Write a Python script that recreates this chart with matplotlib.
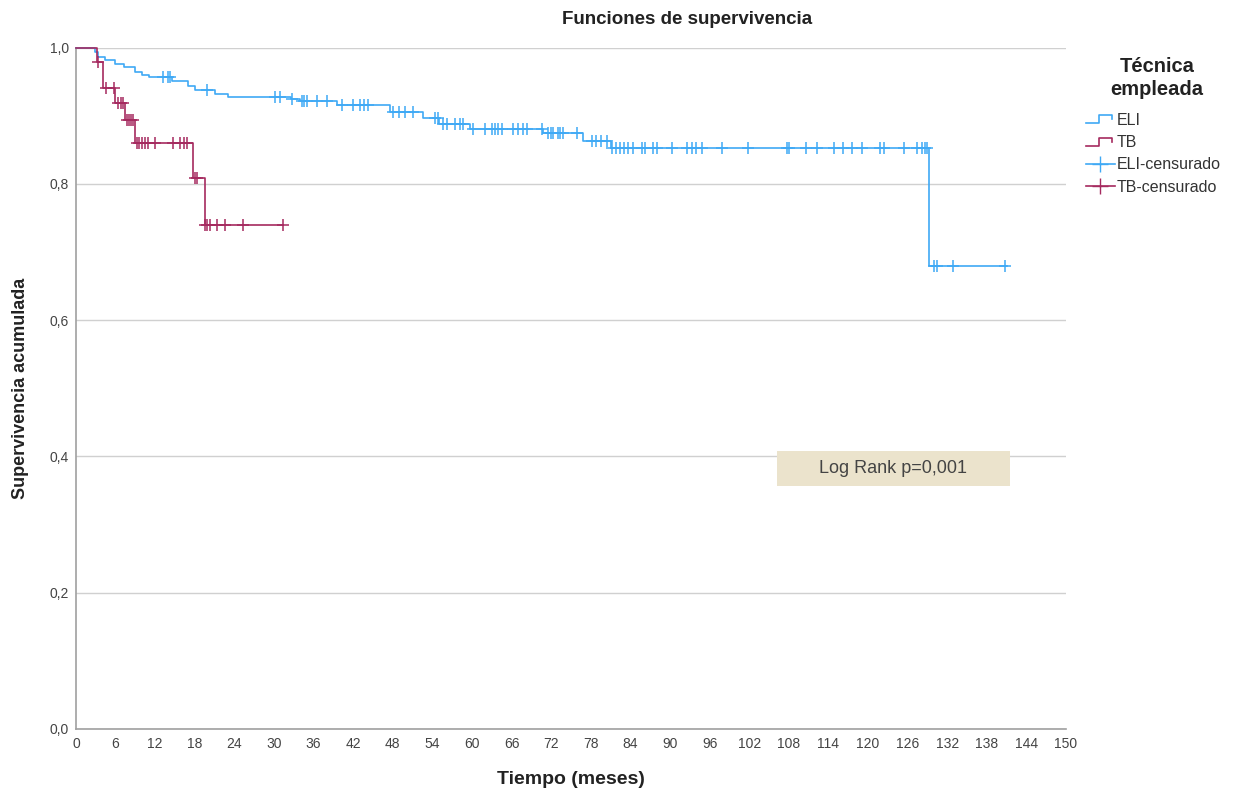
import numpy as np
import matplotlib
matplotlib.use("Agg")
import matplotlib.pyplot as plt
from matplotlib.lines import Line2D
from matplotlib.patches import Rectangle
from matplotlib.legend_handler import HandlerBase

plt.rcParams['font.family'] = ['Liberation Sans', 'DejaVu Sans']

# datos (meses, supervivencia acumulada)
eli_t = [0, 2.9, 3.4, 4.4, 5.9, 7.2, 8.9, 10.0, 11.0, 14.5, 17.0, 18.0, 21.0, 23.0,
         32.5, 34.0, 39.5, 47.6, 52.6, 55.0, 59.7, 70.8, 76.8, 81.0, 129.2]
eli_s = [1.0, 0.993, 0.986, 0.981, 0.976, 0.971, 0.964, 0.960, 0.956, 0.951, 0.944, 0.937,
         0.932, 0.927, 0.924, 0.921, 0.915, 0.905, 0.896, 0.888, 0.881, 0.874, 0.863, 0.852, 0.68]
eli_fin = 141.0
eli_cens = [13.2, 14.0, 14.3, 19.8, 30.2, 30.9, 32.7, 34.2, 34.6, 35.0, 36.5, 38.0, 40.3,
            42.0, 43.0, 43.6, 44.2, 48.0, 49.0, 49.8, 51.0, 54.4, 54.8, 55.6, 56.2, 57.4,
            58.2, 58.6, 60.2, 62.0, 63.0, 63.5, 64.0, 64.5, 66.2, 67.0, 67.7, 68.3, 70.6,
            71.5, 72.0, 72.3, 73.0, 73.4, 73.8, 75.9, 78.2, 78.8, 79.5, 80.5, 81.2, 81.8,
            82.4, 83.0, 83.6, 84.4, 85.8, 86.2, 87.4, 88.0, 90.3, 92.6, 93.3, 94.0, 94.8,
            97.9, 101.8, 107.7, 108.1, 110.6, 112.3, 114.8, 116.2, 117.5, 119.1, 121.8,
            122.4, 125.5, 127.4, 128.2, 128.6, 129.0, 130.0, 130.5, 132.9, 140.8]

tb_t = [0, 3.2, 4.1, 5.9, 7.4, 8.9, 17.7, 19.5]
tb_s = [1.0, 0.978, 0.94, 0.918, 0.893, 0.86, 0.808, 0.74]
tb_fin = 31.4
tb_cens = [3.4, 4.5, 5.8, 6.4, 6.8, 7.1, 7.7, 8.0, 8.3, 8.6, 9.2, 9.6, 10.0, 10.4, 10.9,
           12.0, 14.7, 15.8, 16.3, 16.8, 18.0, 18.4, 19.6, 19.9, 20.3, 21.4, 22.6, 25.3, 31.4]

col_eli = '#3fa9f5'
col_tb = '#a52a5f'


def valor_en(tiempos, surv, t):
    i = np.searchsorted(tiempos, t, side='right') - 1
    return np.array(surv)[i]


class HandlerEscalon(HandlerBase):
    def create_artists(self, legend, orig_handle, xdescent, ydescent, width, height, fontsize, trans):
        x0 = -xdescent
        y0 = -ydescent
        xs = [x0, x0 + width * 0.45, x0 + width * 0.45, x0 + width * 0.9, x0 + width * 0.9]
        ys = [y0 + height * 0.15, y0 + height * 0.15, y0 + height * 0.85, y0 + height * 0.85, y0 + height * 0.5]
        l = Line2D(xs, ys, color=orig_handle.get_color(), lw=1.2, transform=trans)
        return [l]


fig = plt.figure(figsize=(12.4, 7.96), dpi=100)
ax = fig.add_axes([76 / 1240, 1 - 729 / 796, (1066 - 76) / 1240, (729 - 47.5) / 796])

ax.step(eli_t + [eli_fin], eli_s + [eli_s[-1]], where='post', color=col_eli, lw=1.2, clip_on=False, zorder=3)
ax.step(tb_t + [tb_fin], tb_s + [tb_s[-1]], where='post', color=col_tb, lw=1.2, clip_on=False, zorder=4)
ax.plot(eli_cens, valor_en(eli_t, eli_s, eli_cens), ls='none', marker='+', ms=9, mew=1.1,
        color=col_eli, clip_on=False, zorder=3)
ax.plot(tb_cens, valor_en(tb_t, tb_s, tb_cens), ls='none', marker='+', ms=9, mew=1.1,
        color=col_tb, clip_on=False, zorder=4)

ax.set_xlim(0, 150)
ax.set_ylim(0, 1.0)
ax.set_xticks(np.arange(0, 151, 6))
ax.set_yticks(np.arange(0, 1.01, 0.2))
ax.set_yticklabels([('%.1f' % v).replace('.', ',') for v in np.arange(0, 1.01, 0.2)])
ax.tick_params(length=0, labelsize=10, colors='#444444')
ax.tick_params(axis='x', pad=6)
ax.tick_params(axis='y', pad=5)
ax.yaxis.grid(True, color='#d0d0d0', lw=1)
ax.set_axisbelow(True)
for s in ['top', 'right']:
    ax.spines[s].set_visible(False)
for s in ['left', 'bottom']:
    ax.spines[s].set_color('#a0a0a0')
    ax.spines[s].set_linewidth(1.2)

ax.set_xlabel('Tiempo (meses)', fontsize=14, fontweight='bold', labelpad=14, color='#222222')
ax.set_ylabel('Supervivencia acumulada', fontsize=13, fontweight='bold', labelpad=15, color='#222222')
fig.text(687 / 1240, 1 - 19 / 796, 'Funciones de supervivencia', ha='center', va='center',
         fontsize=13.5, fontweight='bold', color='#222222')

# recuadro del log rank
ax.add_patch(Rectangle((106.2, 0.357), 35.3, 0.051, fc='#ebe3cc', ec='none', zorder=2))
ax.text(123.85, 0.3825, 'Log Rank p=0,001', ha='center', va='center', fontsize=13,
        color='#444444', zorder=3)

h_eli = Line2D([], [], color=col_eli)
h_tb = Line2D([], [], color=col_tb)
h_eli_c = Line2D([], [], color=col_eli, marker='+', ms=12, lw=1.2)
h_tb_c = Line2D([], [], color=col_tb, marker='+', ms=12, lw=1.2)
leg = fig.legend([h_eli, h_tb, h_eli_c, h_tb_c], ['ELI', 'TB', 'ELI-censurado', 'TB-censurado'],
                 loc='upper left', bbox_to_anchor=(1086 / 1240, 1 - 113 / 796), frameon=False,
                 fontsize=11.5, handlelength=1.8, handletextpad=0.1,
                 labelspacing=0.45, borderaxespad=0, borderpad=0,
                 handler_map={h_eli: HandlerEscalon(), h_tb: HandlerEscalon()})
for t in leg.get_texts():
    t.set_color('#333333')
fig.text(1157 / 1240, 1 - 78 / 796, 'Técnica\nempleada', ha='center', va='center',
         fontsize=14.5, fontweight='bold', linespacing=1.3, color='#222222')

fig.savefig('out.png', dpi=100)
